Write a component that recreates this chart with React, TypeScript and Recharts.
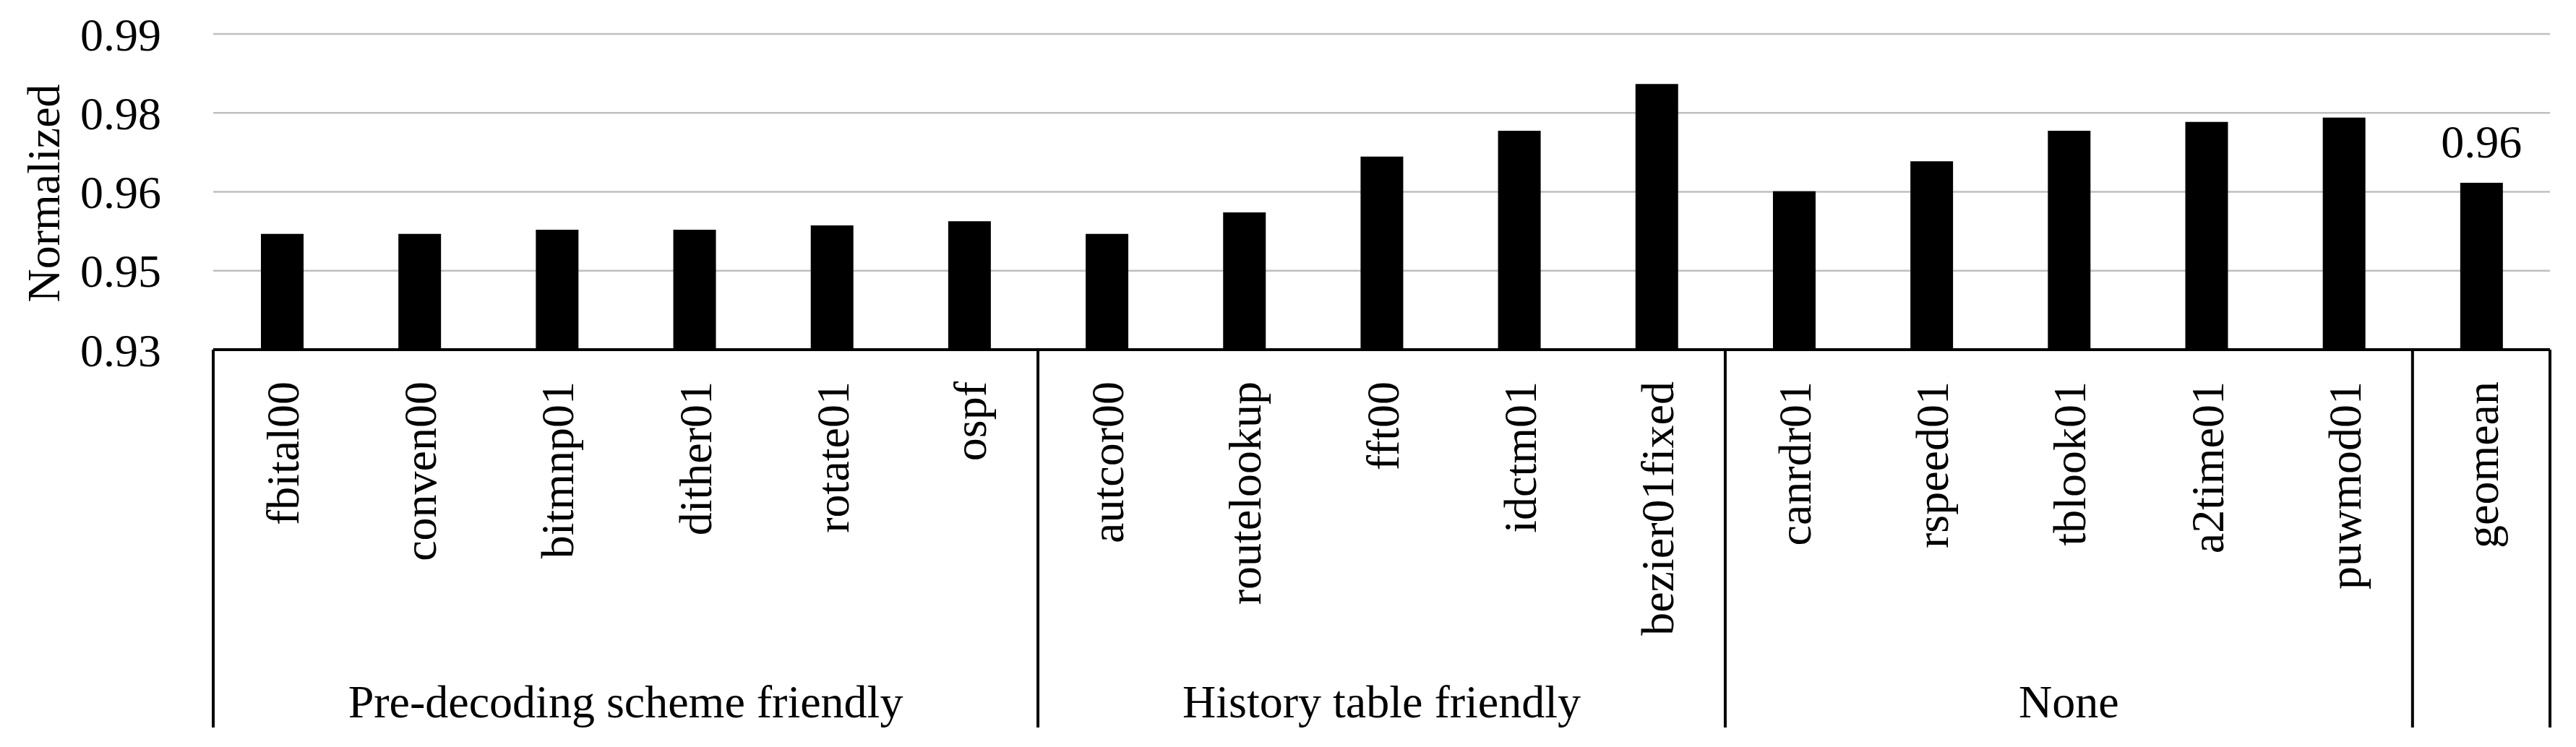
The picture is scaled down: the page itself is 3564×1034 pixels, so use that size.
import React from 'react';
import { BarChart, Bar, XAxis, YAxis, CartesianGrid, LabelList } from 'recharts';

const categories = [
  'fbital00', 'conven00', 'bitmnp01', 'dither01', 'rotate01', 'ospf',
  'autcor00', 'routelookup', 'fft00', 'idctm01', 'bezier01fixed',
  'canrdr01', 'rspeed01', 'tblook01', 'a2time01', 'puwmod01',
  'geomean',
];
const values = [
  0.9520, 0.9520, 0.9528, 0.9528, 0.9536, 0.9544,
  0.9520, 0.9561, 0.9667, 0.9716, 0.9805,
  0.9601, 0.9658, 0.9716, 0.9733, 0.9741,
  0.9617,
];
const groupNames = ['Pre-decoding scheme friendly', 'History table friendly', 'None', ''];
const groupSizes = [6, 5, 5, 1];
const yTicks = [0.93, 0.945, 0.96, 0.975, 0.99];
const yTickLabels = ['0.93', '0.95', '0.96', '0.98', '0.99'];
const labelledCategories = ['geomean'];

const FONT = "'Liberation Serif', 'Times New Roman', Times, serif";
const FS = 64;

const data = categories.map((name, i) => ({
  name,
  value: values[i],
  label: labelledCategories.includes(name) ? values[i].toFixed(2) : '',
}));

const groupStarts: number[] = [];
{
  let acc = 0;
  for (const s of groupSizes) {
    groupStarts.push(acc);
    acc += s;
  }
}

const CategoryTick = (props: any) => {
  const { x, y, payload, index, width, visibleTicksCount } = props;
  const count = visibleTicksCount || categories.length;
  const band = width && count ? width / count : 190;
  const gi = groupStarts.indexOf(index);
  const els: React.ReactNode[] = [];
  els.push(
    <text
      key="lbl"
      transform={`translate(${x + 23},${y + 44}) rotate(-90)`}
      textAnchor="end"
      fontFamily={FONT}
      fontSize={FS}
      fill="#000"
    >
      {payload.value}
    </text>
  );
  if (gi >= 0) {
    const left = x - band / 2;
    els.push(
      <line key="sep" x1={left} x2={left} y1={y} y2={y + 523} stroke="#000" strokeWidth={4} />
    );
    if (groupNames[gi]) {
      els.push(
        <text
          key="grp"
          x={left + (groupSizes[gi] * band) / 2}
          y={y + 509}
          textAnchor="middle"
          fontFamily={FONT}
          fontSize={FS}
          fill="#000"
        >
          {groupNames[gi]}
        </text>
      );
    }
  }
  if (index === categories.length - 1) {
    const right = x + band / 2;
    els.push(
      <line key="end" x1={right} x2={right} y1={y} y2={y + 523} stroke="#000" strokeWidth={4} />
    );
  }
  return <g>{els}</g>;
};

const renderValueLabel = (props: any) => {
  const { x, y, width, value } = props;
  if (!value) return null;
  return (
    <text
      x={Number(x) + Number(width) / 2}
      y={Number(y) - 35}
      textAnchor="middle"
      fontFamily={FONT}
      fontSize={FS}
      fill="#000"
    >
      {value}
    </text>
  );
};

const renderYTitle = (props: any) => {
  const vb = props.viewBox || { x: 0, y: 47, width: 295, height: 437 };
  const cx = vb.x + 82;
  const cy = vb.y + vb.height / 2 + 2;
  return (
    <text
      transform={`translate(${cx},${cy}) rotate(-90)`}
      textAnchor="middle"
      fontFamily={FONT}
      fontSize={FS}
      fill="#000"
    >
      Normalized
    </text>
  );
};

export default function App() {
  return (
    <div style={{ position: 'absolute', left: 0, top: 0, background: '#fff' }}>
      <BarChart
        width={3564}
        height={1034}
        data={data}
        margin={{ top: 47, right: 36, left: 0, bottom: 0 }}
        barCategoryGap="34%"
      >
        <CartesianGrid vertical={false} stroke="#BFBFBF" strokeWidth={2.5} />
        <YAxis
          type="number"
          domain={[0.93, 0.99]}
          ticks={yTicks}
          interval={0}
          width={295}
          axisLine={false}
          tickLine={false}
          tickSize={0}
          tickMargin={72}
          tickFormatter={(v: number, i: number) => yTickLabels[i] ?? String(v)}
          tick={{ fill: '#000', fontSize: FS, fontFamily: FONT }}
          label={{ content: renderYTitle }}
        />
        <XAxis
          dataKey="name"
          type="category"
          height={550}
          interval={0}
          tickLine={false}
          tickSize={0}
          tickMargin={0}
          axisLine={{ stroke: '#000', strokeWidth: 4 }}
          tick={<CategoryTick />}
        />
        <Bar dataKey="value" fill="#000" barSize={59} isAnimationActive={false}>
          <LabelList dataKey="label" content={renderValueLabel} />
        </Bar>
      </BarChart>
    </div>
  );
}
